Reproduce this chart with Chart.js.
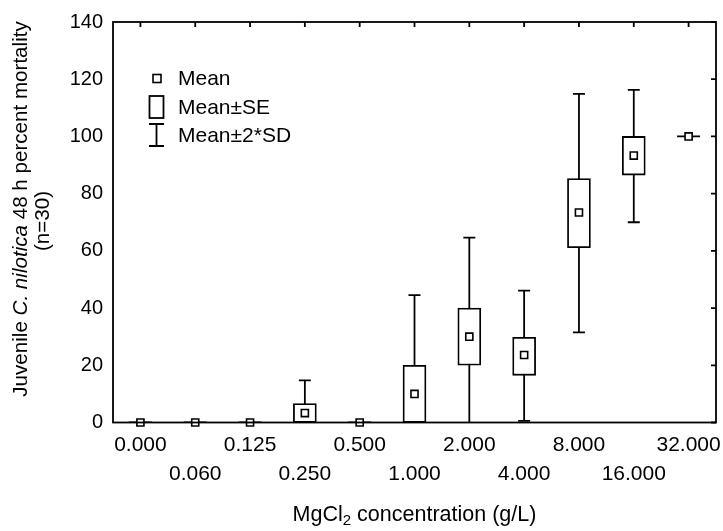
<!DOCTYPE html>
<html lang="en">
<head>
    <meta charset="UTF-8">
    <title>MgCl2 mortality</title>
    <script src="https://cdn.jsdelivr.net/npm/chart.js"></script>
    <style>
        body { margin: 0; background: #fff; }
        canvas { display: block; }
    </style>
</head>
<body>
    <canvas id="chart" width="723" height="531"></canvas>

    <script>
        // values
        const categories = ['0.000', '0.060', '0.125', '0.250', '0.500', '1.000', '2.000', '4.000', '8.000', '16.000', '32.000'];
        const means  = [0, 0, 0, 3.3, 0, 10, 30, 23.6, 73.4, 93.3, 100];
        const seLow  = [0, 0, 0, 0, 0, 0, 20, 16.5, 61.1, 86.5, 100];
        const seHigh = [0, 0, 0, 6.6, 0, 20, 40, 29.8, 85.3, 100, 100];
        const sdLow  = [0, 0, 0, -8, 0, -24.5, -4.6, 0.6, 31.5, 70, 100];
        const sdHigh = [0, 0, 0, 14.7, 0, 44.5, 64.6, 46.1, 114.9, 116.3, 100];
        const yTicks = [0, 20, 40, 60, 80, 100, 120, 140];

        const FONT = "'Liberation Sans', Arial, sans-serif";
        const LW = 1.8;

        // whiskers (mean ± 2*SD) and flat boxes, drawn under the boxes
        const whiskers = {
            id: 'whiskers',
            beforeDatasetsDraw(chart) {
                const { ctx, chartArea: a, scales: { x, y } } = chart;
                ctx.save();
                ctx.beginPath();
                ctx.rect(a.left, a.top, a.right - a.left, a.bottom - a.top);
                ctx.clip();
                ctx.strokeStyle = '#000';
                ctx.lineWidth = LW;
                categories.forEach((c, i) => {
                    const px = x.getPixelForValue(i);
                    const t = y.getPixelForValue(sdHigh[i]);
                    const b = y.getPixelForValue(sdLow[i]);
                    ctx.beginPath();
                    ctx.moveTo(px, t); ctx.lineTo(px, b);
                    ctx.moveTo(px - 6, t); ctx.lineTo(px + 6, t);
                    ctx.moveTo(px - 6, b); ctx.lineTo(px + 6, b);
                    if (seLow[i] === seHigh[i]) {
                        const s = y.getPixelForValue(seLow[i]);
                        ctx.moveTo(px - 11.5, s); ctx.lineTo(px + 11.5, s);
                    }
                    ctx.stroke();
                });
                ctx.restore();
            }
        };

        // frame, inner ticks, axis titles and the legend
        const decor = {
            id: 'decor',
            afterDraw(chart) {
                const { ctx, chartArea: a, scales: { x, y } } = chart;
                ctx.save();
                ctx.strokeStyle = '#000';
                ctx.fillStyle = '#000';
                ctx.lineWidth = LW;
                ctx.strokeRect(a.left, a.top, a.right - a.left, a.bottom - a.top);
                ctx.beginPath();
                categories.forEach((c, i) => {
                    const px = x.getPixelForValue(i);
                    ctx.moveTo(px, a.top); ctx.lineTo(px, a.top + 5);
                });
                yTicks.forEach(v => {
                    const py = y.getPixelForValue(v);
                    ctx.moveTo(a.right, py); ctx.lineTo(a.right - 5, py);
                });
                ctx.stroke();

                // x title with subscript
                ctx.textBaseline = 'alphabetic';
                ctx.textAlign = 'left';
                const xt = '21.5px ' + FONT, sub = '15px ' + FONT;
                ctx.font = xt;
                const p1 = 'MgCl', p3 = ' concentration (g/L)';
                const w1 = ctx.measureText(p1).width, w3 = ctx.measureText(p3).width;
                ctx.font = sub;
                const w2 = ctx.measureText('2').width;
                const xs = (a.left + a.right) / 2 - (w1 + w2 + w3) / 2;
                ctx.font = xt; ctx.fillText(p1, xs, 521);
                ctx.font = sub; ctx.fillText('2', xs + w1, 525);
                ctx.font = xt; ctx.fillText(p3, xs + w1 + w2, 521);

                // y title, two lines, rotated
                const yt = '20.6px ' + FONT;
                const parts = [['Juvenile ', false], ['C. nilotica', true], [' 48 h percent mortality', false]];
                let total = 0;
                parts.forEach(p => {
                    ctx.font = (p[1] ? 'italic ' : '') + yt;
                    total += ctx.measureText(p[0]).width;
                });
                ctx.save();
                ctx.translate(21, 209);
                ctx.rotate(-Math.PI / 2);
                ctx.textBaseline = 'middle';
                let tx = -total / 2;
                parts.forEach(p => {
                    ctx.font = (p[1] ? 'italic ' : '') + yt;
                    ctx.fillText(p[0], tx, 0);
                    tx += ctx.measureText(p[0]).width;
                });
                ctx.restore();
                ctx.save();
                ctx.translate(43, 221);
                ctx.rotate(-Math.PI / 2);
                ctx.textBaseline = 'middle';
                ctx.textAlign = 'center';
                ctx.font = yt;
                ctx.fillText('(n=30)', 0, 0);
                ctx.restore();

                // legend
                ctx.lineWidth = 1.6;
                ctx.fillStyle = '#fff';
                ctx.fillRect(153, 74.5, 8, 8);
                ctx.strokeRect(153, 74.5, 8, 8);
                ctx.lineWidth = LW;
                ctx.strokeRect(149.5, 96, 14, 22);
                ctx.beginPath();
                ctx.moveTo(149, 124); ctx.lineTo(164, 124);
                ctx.moveTo(156.5, 124); ctx.lineTo(156.5, 146);
                ctx.moveTo(149, 146); ctx.lineTo(164, 146);
                ctx.stroke();
                ctx.fillStyle = '#000';
                ctx.font = '21px ' + FONT;
                ctx.textBaseline = 'middle';
                ctx.fillText('Mean', 178, 79);
                ctx.fillText('Mean±SE', 178, 108);
                ctx.fillText('Mean±2*SD', 178, 136);
                ctx.restore();
            }
        };

        new Chart(document.getElementById('chart'), {
            type: 'bar',
            data: {
                labels: categories,
                datasets: [
                    {
                        type: 'line',
                        label: 'Mean',
                        data: means,
                        showLine: false,
                        pointStyle: 'rect',
                        pointRadius: 5,
                        pointBackgroundColor: '#fff',
                        pointBorderColor: '#000',
                        pointBorderWidth: 1.6,
                        clip: false,
                        order: 0
                    },
                    {
                        label: 'Mean±SE',
                        data: categories.map((c, i) => [seLow[i], seHigh[i]]),
                        backgroundColor: '#fff',
                        borderColor: '#000',
                        borderWidth: LW,
                        borderSkipped: false,
                        barThickness: 23,
                        order: 1
                    }
                ]
            },
            options: {
                responsive: false,
                animation: false,
                devicePixelRatio: 1,
                layout: { padding: { top: 17.5, right: 7, left: 0, bottom: 0 } },
                plugins: { legend: { display: false }, tooltip: { enabled: false } },
                scales: {
                    x: {
                        offset: true,
                        grid: { display: false, drawTicks: false },
                        border: { display: false },
                        ticks: {
                            color: '#000',
                            font: { family: FONT, size: 21, lineHeight: 1.38 },
                            padding: 8,
                            maxRotation: 0,
                            autoSkip: false,
                            callback: (v, i) => i % 2 ? ['', categories[i]] : categories[i]
                        },
                        afterFit: s => {
                            s.height = 108.5;
                            s.paddingLeft = 0;
                            s.paddingRight = 0;
                        }
                    },
                    y: {
                        min: 0,
                        max: 140,
                        grid: { display: false, drawTicks: false },
                        border: { display: false },
                        ticks: {
                            stepSize: 20,
                            color: '#000',
                            font: { family: FONT, size: 20 },
                            padding: 10
                        },
                        afterFit: s => { s.width = 113; }
                    }
                }
            },
            plugins: [whiskers, decor]
        });
    </script>
</body>
</html>
